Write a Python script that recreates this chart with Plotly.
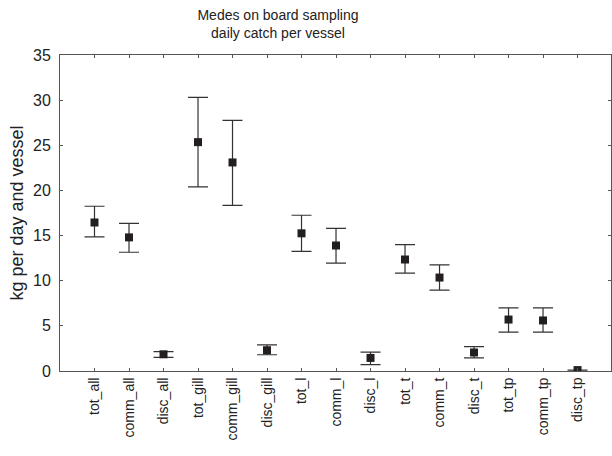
import plotly.graph_objects as go

categories = ["tot_all", "comm_all", "disc_all", "tot_gill", "comm_gill", "disc_gill",
              "tot_l", "comm_l", "disc_l", "tot_t", "comm_t", "disc_t",
              "tot_tp", "comm_tp", "disc_tp"]
means = [16.45, 14.8, 1.85, 25.35, 23.1, 2.3, 15.25, 13.9, 1.45, 12.35, 10.35, 2.05, 5.7, 5.6, 0.1]
upper = [18.25, 16.35, 2.15, 30.3, 27.75, 2.9, 17.25, 15.8, 2.1, 14.0, 11.75, 2.7, 7.0, 7.0, 0.1]
lower = [14.85, 13.15, 1.5, 20.4, 18.35, 1.8, 13.25, 11.95, 0.7, 10.85, 8.95, 1.45, 4.3, 4.3, 0.1]

err_plus = [u - m for u, m in zip(upper, means)]
err_minus = [m - l for m, l in zip(means, lower)]
xidx = list(range(len(categories)))

fig = go.Figure()
fig.add_trace(go.Scatter(
    x=xidx, y=means, mode="markers",
    marker=dict(symbol="square", size=8, color="#231f20"),
    error_y=dict(type="data", symmetric=False, array=err_plus, arrayminus=err_minus,
                 color="#333333", thickness=1.2, width=10),
    cliponaxis=True, showlegend=False,
))

axis_line = "#555555"
fig.update_layout(
    width=612, height=456, autosize=False,
    margin=dict(l=60, r=1, t=55, b=85),
    paper_bgcolor="white", plot_bgcolor="white",
    font=dict(family="Liberation Sans, Arial, sans-serif", color="#222222"),
    title=dict(text="Medes on board sampling<br>daily catch per vessel",
               xref="container", x=278 / 612, xanchor="center",
               yref="container", y=1 - 20 / 456, yanchor="middle",
               font=dict(size=14, color="#222222")),
    xaxis=dict(range=[-1, 14.97], tickmode="array", tickvals=xidx, ticktext=categories,
               tickangle=-90, tickfont=dict(size=14), ticks="inside", ticklen=3,
               tickcolor=axis_line, showline=True, linecolor=axis_line, linewidth=1,
               mirror="ticks", showgrid=False, zeroline=False),
    yaxis=dict(range=[0, 35], tickvals=[0, 5, 10, 15, 20, 25, 30, 35],
               tickfont=dict(size=16), ticks="inside", ticklen=3, tickcolor=axis_line,
               ticklabelstandoff=5,
               showline=True, linecolor=axis_line, linewidth=1, mirror="ticks",
               showgrid=False, zeroline=False,
               title=dict(text="kg per day and vessel", font=dict(size=18), standoff=4)),
)

page_style = ("document.documentElement.style.overflow='hidden';"
              "document.body.style.margin='0';document.body.style.overflow='hidden';")
fig.write_html("out.html", post_script=page_style,
               config={"responsive": False, "displayModeBar": False})
